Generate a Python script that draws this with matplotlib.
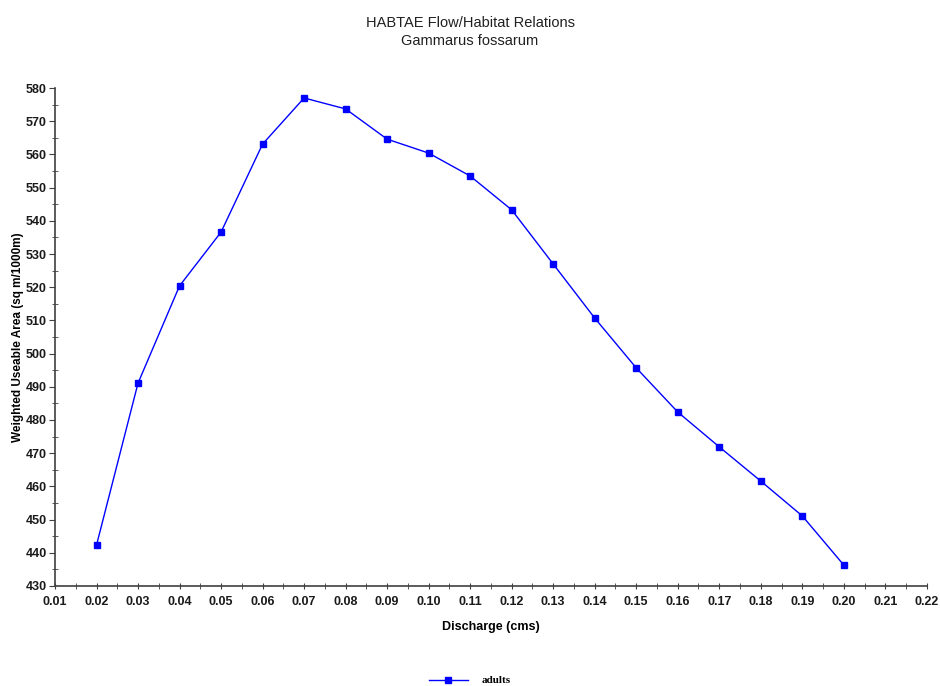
#!python3

# HABTAE flow/habitat relation curve for Gammarus fossarum (adults).

import matplotlib
matplotlib.use('Agg')
from matplotlib import pyplot as plt
from matplotlib.ticker import MultipleLocator, FormatStrFormatter

discharge = [0.02, 0.03, 0.04, 0.05, 0.06, 0.07, 0.08, 0.09, 0.10, 0.11,
             0.12, 0.13, 0.14, 0.15, 0.16, 0.17, 0.18, 0.19, 0.20]
wua_adults = [442.3, 491.1, 520.4, 536.6, 563.1, 577.0, 573.7, 564.6, 560.4, 553.5,
              543.3, 527.0, 510.7, 495.7, 482.4, 471.9, 461.6, 451.1, 436.3]

plt.rcParams['font.family'] = ['Liberation Sans', 'DejaVu Sans']

fig = plt.figure(figsize=(9.4, 6.86), dpi=100)
ax = fig.add_axes([0.0585, 0.1458, 0.9275, 0.7259])

line, = ax.plot(discharge, wua_adults, color='#0000ff', linewidth=1.0,
                marker='s', markersize=4.5, markeredgecolor='#0000ff',
                markerfacecolor='#0000ff', label='adults')

ax.set_xlim(0.01, 0.22)
ax.set_ylim(430, 580)
ax.xaxis.set_major_locator(MultipleLocator(0.01))
ax.xaxis.set_minor_locator(MultipleLocator(0.005))
ax.yaxis.set_major_locator(MultipleLocator(10))
ax.yaxis.set_minor_locator(MultipleLocator(5))
ax.xaxis.set_major_formatter(FormatStrFormatter('%.2f'))

for side in ('top', 'right'):
    ax.spines[side].set_visible(False)
for side in ('left', 'bottom'):
    ax.spines[side].set_color('#404040')
    ax.spines[side].set_linewidth(1.2)

ax.tick_params(axis='both', which='major', direction='out', length=4,
               color='#404040', labelsize=9, pad=2)
ax.tick_params(axis='both', which='minor', direction='inout', length=5,
               color='#404040')
ax.tick_params(axis='x', which='major', direction='inout', length=5, pad=5)
for lbl in ax.get_xticklabels() + ax.get_yticklabels():
    lbl.set_fontweight('bold')
    lbl.set_color('#1a1a1a')

ax.set_xlabel('Discharge (cms)', fontsize=9, fontweight='bold', labelpad=9)
ax.set_ylabel('Weighted Useable Area (sq m/1000m)', fontsize=8.5,
              fontweight='bold')
ax.yaxis.set_label_coords(-0.035, 0.5)

fig.text(0.5, 0.967, 'HABTAE Flow/Habitat Relations', ha='center',
         va='center', fontsize=10.5, color='#202020')
fig.text(0.5, 0.940, 'Gammarus fossarum', ha='center', va='center',
         fontsize=10.5, color='#202020')

fig.legend(handles=[line], loc='center', bbox_to_anchor=(0.50, 0.008),
           frameon=False, prop={'family': 'Liberation Serif', 'weight': 'bold',
                                'size': 8},
           handlelength=3.5, handletextpad=1.3)

fig.savefig('out.png', dpi=100, facecolor='white')
